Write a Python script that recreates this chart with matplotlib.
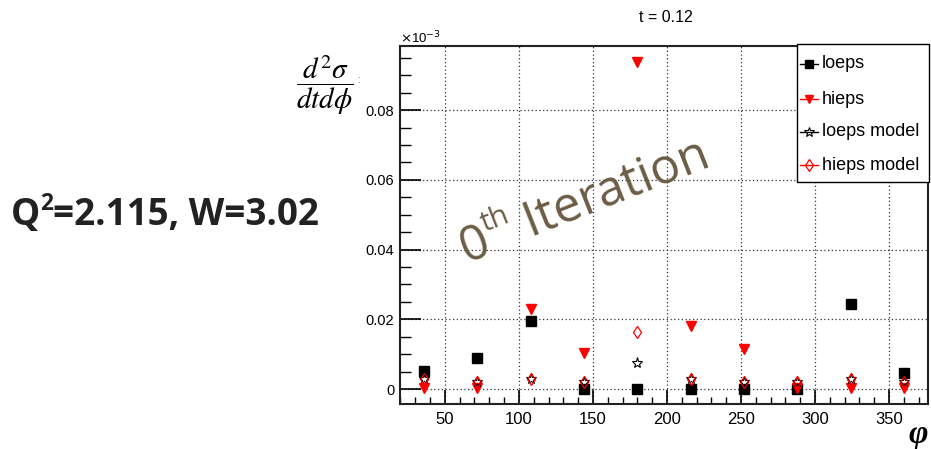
import math
import matplotlib
matplotlib.use("Agg")
import matplotlib.pyplot as plt
from matplotlib.lines import Line2D
from matplotlib.patches import Rectangle
from matplotlib.ticker import MultipleLocator, FuncFormatter
from matplotlib import font_manager as fm

plt.rcParams['font.family'] = ['Liberation Sans', 'DejaVu Sans']

# ---- data (units of 1e-3) ----
phi = [36, 72, 108, 144, 180, 216, 252, 288, 324, 360]
loeps = [0.0052, 0.0090, 0.0196, 0.0, 0.0, 0.0, 0.0, 0.0, 0.0244, 0.0045]
hieps = [0.0003, 0.0002, 0.0230, 0.0102, 0.0937, 0.0182, 0.0116, 0.0002, 0.0002, 0.0002]
loeps_model = [0.0029, 0.0019, 0.0029, 0.0019, 0.0075, 0.0030, 0.0019, 0.0019, 0.0030, 0.0019]
hieps_model = [0.0029, 0.0019, 0.0029, 0.0019, 0.0164, 0.0030, 0.0019, 0.0019, 0.0030, 0.0019]
series_names = ["loeps", "hieps", "loeps model", "hieps model"]
title = "t = 0.12"
side_parts = ["Q", "2", "=2.115, W=3.02"]
stamp_parts = ["0", "th", " Iteration"]

W, H = 931, 449


def pick(name, weight=400, italic=False):
    cands = [f for f in fm.fontManager.ttflist if f.name == name]
    if not cands:
        return fm.FontProperties(family='DejaVu Sans', weight=weight)

    def score(f):
        s = 0
        fn = f.fname.lower()
        if ('italic' in fn) != italic:
            s += 100
        if f.style != ('italic' if italic else 'normal'):
            s += 100
        if 'cond' in fn or f.stretch != 'normal':
            s += 50
        if '[' in fn:
            s += 5
        w = f.weight if isinstance(f.weight, int) else fm.weight_dict.get(f.weight, 400)
        s += abs(w - weight) / 10
        return s
    best = min(cands, key=score)
    return fm.FontProperties(fname=best.fname)


fp_os = pick('Open Sans', 400)
fp_osb = pick('Open Sans', 700)

fig = plt.figure(figsize=(W / 100, H / 100), dpi=100)
ax = fig.add_axes([400 / W, 1 - 404 / H, 528 / W, 358 / H])

ax.plot(phi, loeps, ls='none', marker='s', ms=7, color='black', zorder=3)
ax.plot(phi, hieps, ls='none', marker='v', ms=7, color='red', mec='red', zorder=3)
ax.plot(phi, loeps_model, ls='none', marker='*', ms=8, mfc='none', mec='black', mew=0.8, zorder=3)
ax.plot(phi, hieps_model, ls='none', marker='d', ms=6.5, mfc='none', mec='red', mew=0.9, zorder=3)

ax.set_xlim(19.7, 376.3)
ax.set_ylim(-0.0043, 0.0984)

ax.xaxis.set_major_locator(MultipleLocator(50))
ax.xaxis.set_minor_locator(MultipleLocator(10))
ax.yaxis.set_major_locator(MultipleLocator(0.02))
ax.yaxis.set_minor_locator(MultipleLocator(0.005))
ax.yaxis.set_major_formatter(FuncFormatter(lambda v, p: "0" if abs(v) < 1e-9 else f"{v:.2f}"))

ax.tick_params(axis='x', which='major', direction='in', length=10, width=1.2, labelsize=12, pad=6, top=False)
ax.tick_params(axis='x', which='minor', direction='in', length=5, width=1.0, top=False)
ax.tick_params(axis='y', which='major', direction='in', length=15, width=1.2, labelsize=10.5, pad=4, right=False)
ax.tick_params(axis='y', which='minor', direction='in', length=8, width=1.0, right=False)

ax.grid(True, which='major', ls=(0, (1, 2)), color='#333333', lw=0.9)
for s in ax.spines.values():
    s.set_linewidth(1.5)
    s.set_color('#222222')

fig.text(666 / W, 1 - 17 / H, title, fontsize=11.5, ha='center', va='center')
fig.text(400 / W, 1 - 38 / H, r"$\times$10$^{-3}$", fontsize=9.5, ha='left', va='center',
         math_fontfamily='dejavusans')

# legend (drawn by hand, ROOT style)
fig.patches.append(Rectangle((797 / W, 1 - 182 / H), 132 / W, 138 / H, transform=fig.transFigure,
                             facecolor='white', edgecolor='black', lw=1.0, zorder=5))
leg_styles = [
    dict(color='black', marker='s', ms=6),
    dict(color='red', marker='v', ms=6),
    dict(color='black', marker='*', ms=7.5, mfc='none', mec='black', mew=0.8),
    dict(color='red', marker='d', ms=6, mfc='none', mec='red', mew=0.9),
]
leg_y = [64, 99, 132, 165]
for name, st, yy in zip(series_names, leg_styles, leg_y):
    fy = 1 - yy / H
    fig.add_artist(Line2D([800 / W, 818 / W], [fy, fy], transform=fig.transFigure, lw=1.0,
                          color=st['color'], zorder=6))
    kw = {k: v for k, v in st.items() if k != 'color'}
    kw.setdefault('mfc', st['color'])
    kw.setdefault('mec', st['color'])
    fig.add_artist(Line2D([809 / W], [fy], transform=fig.transFigure, ls='none', zorder=7, **kw))
    fig.text(822 / W, fy, name, fontsize=13, ha='left', va='center', zorder=7)

# y label (fraction)
fig.text(325 / W, 1 - 85 / H, r"$\dfrac{d^2\sigma}{dtd\phi}$", fontsize=21, ha='center', va='center',
         math_fontfamily='stix')
fig.text(358 / W, 1 - 80 / H, ":", fontsize=7, ha='center', va='center', color='#555555')

# x label
fig.text(918 / W, 1 - 435 / H, "\u03c6", fontsize=24, ha='center', va='center',
         family='Liberation Serif', fontweight='bold', style='italic')

renderer = fig.canvas.get_renderer()


def text_width(s, fp, size):
    t = fig.text(0, 0, s, fontproperties=fp, fontsize=size)
    w = t.get_window_extent(renderer).width
    t.remove()
    return w


def lay_out(parts, sizes, raises, x0, y0, angle, fp, color):
    # x0, y0 in image pixels (top-left origin), baseline start
    a = math.radians(angle)
    ux, uy = math.cos(a), math.sin(a)
    nx, ny = -math.sin(a), math.cos(a)
    px, py = x0, H - y0
    adv = 0.0
    for s, size, r in zip(parts, sizes, raises):
        x = px + ux * adv + nx * r
        y = py + uy * adv + ny * r
        fig.text(x / W, y / H, s, fontproperties=fp, fontsize=size, color=color,
                 ha='left', va='baseline', rotation=angle, rotation_mode='anchor')
        adv += text_width(s, fp, size)


# left annotation
fs = 26.5
lay_out(side_parts, [fs, fs * 0.62, fs], [0, fs * 1.39 * 0.42, 0], 11, 225, 0, fp_osb, '#222222')

# rotated stamp
fs2 = 35.5
lay_out(stamp_parts, [fs2, fs2 * 0.6, fs2], [0, fs2 * 1.39 * 0.45, 0], 466, 263, 21.5, fp_os, '#6b5d45')

fig.savefig("out.png", dpi=100)
